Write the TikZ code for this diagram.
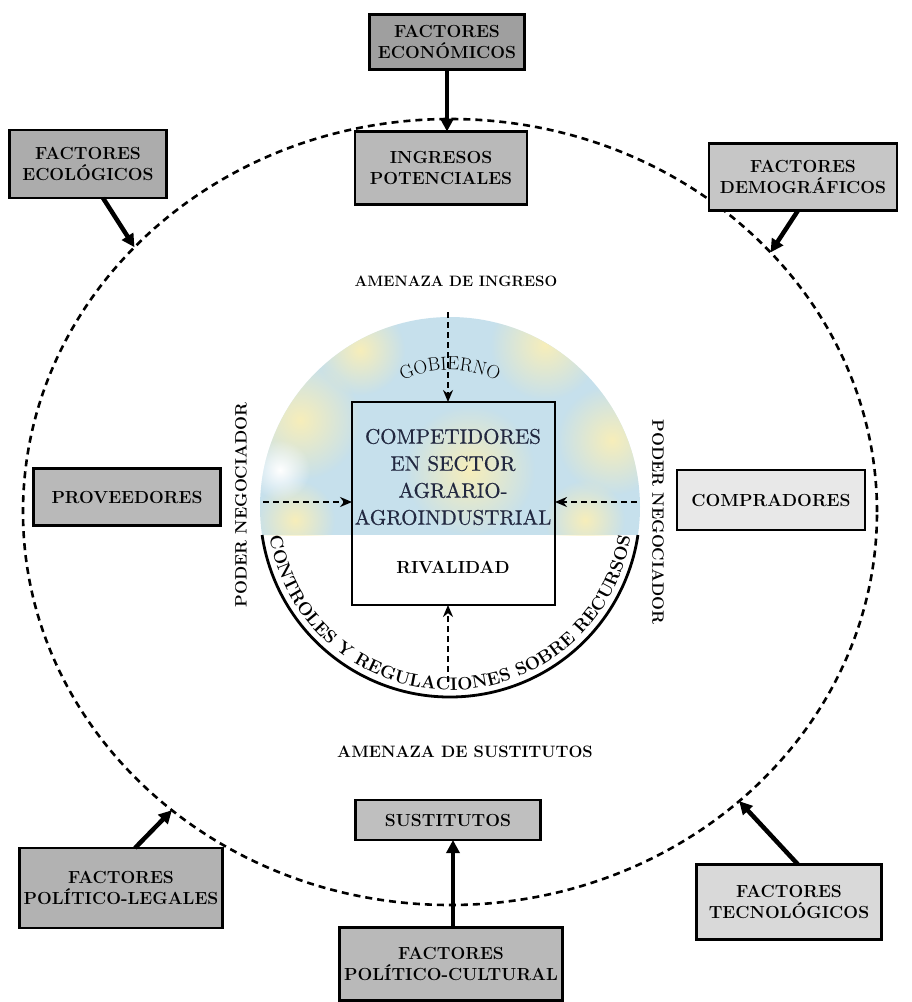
\documentclass[tikz,border=0pt]{standalone}
\usepackage{fontspec}
\usetikzlibrary{shapes.geometric, arrows.meta, decorations.text, fadings}

% a slightly heavier text face for the central block
\newfontfamily\coreface{lmroman10-regular.otf}[FakeBold=0.5]

\definecolor{mistblue}{RGB}{198,224,236}
\definecolor{straw}{RGB}{247,238,186}
\definecolor{slateink}{RGB}{34,40,64}
\tikzfading[name=softblob, inner color=transparent!0, outer color=transparent!100]

\begin{document}
\begin{tikzpicture}[x=1pt, y=1pt,
  factor/.style={draw=black, line width=2.6pt, inner sep=0pt, outer sep=0pt,
    font=\bfseries\fontsize{17.5}{21}\selectfont, align=center, text=black},
  push/.style={line width=4.5pt, -{Triangle[length=13pt, width=13pt]}},
  probe/.style={line width=2.4pt, dash pattern=on 6pt off 4pt,
    -{Stealth[length=12pt, width=10pt]}},
  caption/.style={font=\bfseries\fontsize{15}{17}\selectfont},
  blob/.style={fill=straw, path fading=softblob}
]
\useasboundingbox (0,0) rectangle (912,-1002);

% outer dashed ring of environmental forces
\node[ellipse, draw, line width=2.6pt, dash pattern=on 7pt off 5pt,
      minimum width=854pt, minimum height=786pt, inner sep=0pt, outer sep=0pt]
      (ring) at (450,-512) {};

% inner circle: tinted upper part
\coordinate (hub) at (450,-507);
\begin{scope}
  \clip (hub) circle (190);
  \clip (250,-535) rectangle (660,-300);
  \fill[mistblue] (250,-535) rectangle (660,-300);
  \path[blob] (300,-420) circle (60);
  \path[blob] (360,-350) circle (45);
  \path[blob] (545,-345) circle (55);
  \path[blob] (612,-440) circle (55);
  \path[blob] (470,-470) circle (65);
  \path[blob] (295,-520) circle (40);
  \path[blob] (585,-520) circle (40);
  \path[fill=white, path fading=softblob] (280,-470) circle (30);
\end{scope}
\draw[line width=1.2pt] (hub) ++(351.5:190) arc[start angle=351.5, end angle=188.5, radius=190];
\draw[line width=2.8pt] (hub) ++(188.5:190) arc[start angle=188.5, end angle=351.5, radius=190];

% central box
\node[draw, line width=1.8pt, minimum width=203pt, minimum height=203pt,
      inner sep=0pt, outer sep=0pt] (core) at (453.5,-503.5) {};
\node[font=\coreface\fontsize{21}{27}\selectfont, text=slateink, align=center]
      (rivals) at (453,-477) {COMPETIDORES\\EN SECTOR\\AGRARIO-\\AGROINDUSTRIAL};
\node[font=\bfseries\fontsize{17.5}{20}\selectfont] (rivalry) at (453,-567) {RIVALIDAD};

% curved labels inside the circle
\path[decorate, decoration={text along path, text align=center,
      text={|\fontsize{19}{19}\selectfont|GOBIERNO}}]
      (450,-480) ++(118:110) arc[start angle=118, end angle=62, radius=110];
\path[decorate, decoration={text along path, text align=center,
      text={|\bfseries\fontsize{18}{18}\selectfont|CONTROLES Y REGULACIONES SOBRE RECURSOS}}]
      (hub) ++(188:183) arc[start angle=188, end angle=352, radius=183];

% dashed forces into the central box
\coordinate (gtop) at (448,-312);
\coordinate (gleft) at (263,-502);
\coordinate (gright) at (637,-502);
\coordinate (gbottom) at (448,-682);
\draw[probe] (gtop) -- (gtop |- core.north);
\draw[probe] (gleft) -- (core.west |- gleft);
\draw[probe] (gright) -- (core.east |- gright);
\draw[probe] (gbottom) -- (gbottom |- core.south);

% captions
\node[caption] (threatin) at (456,-281) {AMENAZA DE INGRESO};
\node[caption, font=\bfseries\fontsize{16.5}{18}\selectfont] (threatsub) at (465,-752) {AMENAZA DE SUSTITUTOS};
\node[caption, font=\bfseries\fontsize{16.5}{18}\selectfont, rotate=90] (powerleft) at (241,-505) {PODER NEGOCIADOR};
\node[caption, font=\bfseries\fontsize{16.5}{18}\selectfont, rotate=-90] (powerright) at (658,-522) {PODER NEGOCIADOR};

% outer factor boxes
\node[factor, fill=gray!75, minimum width=155pt, minimum height=55pt] (econ) at (447,-42) {FACTORES\\ECONÓMICOS};
\node[factor, fill=gray!65, minimum width=157pt, minimum height=68pt] (ecol) at (88,-164) {FACTORES\\ECOLÓGICOS};
\node[factor, fill=gray!55, minimum width=172pt, minimum height=73pt] (entrants) at (441,-168) {INGRESOS\\POTENCIALES};
\node[factor, fill=gray!45, minimum width=188pt, minimum height=67pt] (demog) at (803,-177) {FACTORES\\DEMOGRÁFICOS};
\node[factor, fill=gray!55, minimum width=187pt, minimum height=57pt] (suppliers) at (127,-497) {PROVEEDORES};
\node[factor, fill=gray!18, minimum width=188pt, minimum height=60pt] (buyers) at (771,-500) {COMPRADORES};
\node[factor, fill=gray!50, minimum width=185pt, minimum height=40pt] (substitutes) at (448,-820) {SUSTITUTOS};
\node[factor, fill=gray!60, minimum width=203pt, minimum height=80pt] (legal) at (121,-888) {FACTORES\\POLÍTICO-LEGALES};
\node[factor, fill=gray!55, minimum width=223pt, minimum height=73pt] (culture) at (451,-964) {FACTORES\\POLÍTICO-CULTURAL};
\node[factor, fill=gray!30, minimum width=185pt, minimum height=75pt] (tech) at (789,-902) {FACTORES\\TECNOLÓGICOS};

% solid arrows from the factors
\draw[push] (econ.south) -- (econ.south |- entrants.north);
\draw[push] ([xshift=15pt]ecol.south) -- (ring.140);
\draw[push] ([xshift=-5pt]demog.south) -- (ring.39);
\draw[push] ([xshift=14pt]legal.north) -- (ring.227);
\draw[push] ([xshift=9pt]tech.north) -- (ring.315);
\draw[push] ([xshift=2pt]culture.north) -- ([xshift=2pt]culture.north |- substitutes.south);
\end{tikzpicture}
\end{document}
